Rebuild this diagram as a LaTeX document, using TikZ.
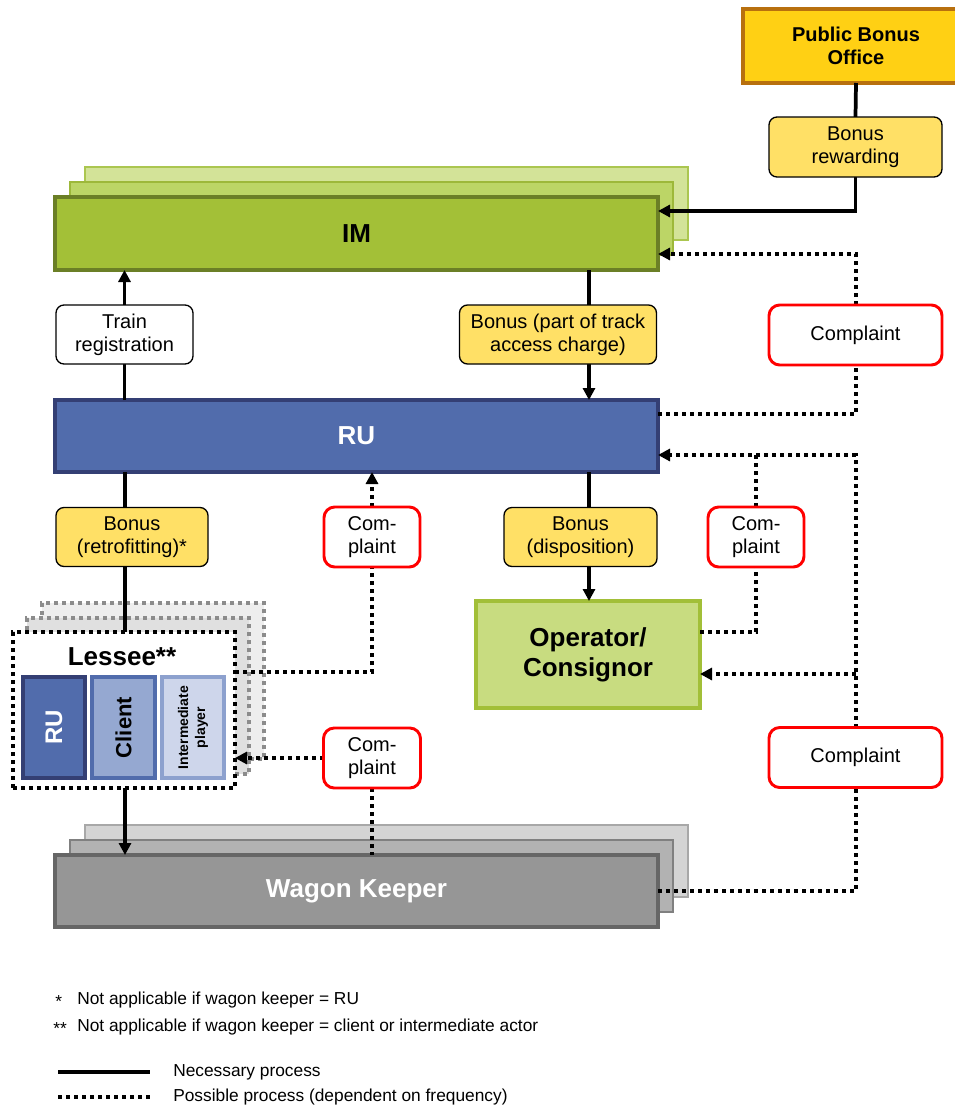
\documentclass[tikz,border=0pt]{standalone}
\usepackage{fontspec}
\setmainfont{Liberation Sans}
\usetikzlibrary{arrows.meta}
\definecolor{pboFill}{HTML}{FFD014}
\definecolor{pboDraw}{HTML}{B8700E}
\definecolor{lblY}{HTML}{FFE066}
\definecolor{imA}{HTML}{A3C037}
\definecolor{imAd}{HTML}{6B7F26}
\definecolor{imB}{HTML}{BCD566}
\definecolor{imBd}{HTML}{9DB83A}
\definecolor{imC}{HTML}{D3E398}
\definecolor{imCd}{HTML}{ABC650}
\definecolor{ruF}{HTML}{516CAC}
\definecolor{ruD}{HTML}{343F74}
\definecolor{opF}{HTML}{C8DC80}
\definecolor{opD}{HTML}{A2BF38}
\definecolor{wkA}{HTML}{969696}
\definecolor{wkAd}{HTML}{666666}
\definecolor{wkB}{HTML}{B2B2B2}
\definecolor{wkBd}{HTML}{808080}
\definecolor{wkC}{HTML}{D4D4D4}
\definecolor{wkCd}{HTML}{A8A8A8}
\definecolor{lsB}{HTML}{E0E0E0}
\definecolor{lsC}{HTML}{EEEEEE}
\definecolor{lsD}{HTML}{8C8C8C}
\definecolor{clF}{HTML}{95A8D1}
\definecolor{inF}{HTML}{CED6EB}
\definecolor{inD}{HTML}{8DA1CE}
\definecolor{cRed}{HTML}{FF0000}
\pgfdeclarelayer{bg}
\pgfdeclarelayer{conn}
\pgfsetlayers{bg,conn,main}
\tikzset{
  sz/.style 2 args={minimum width=#1*0.75pt, minimum height=#2*0.75pt},
  box/.style={draw, rectangle, inner sep=0pt, outer sep=0pt, align=center},
  big/.style={font=\fontsize{19.5}{22.5}\selectfont\bfseries},
  lbl/.style={box, rounded corners=6pt, line width=1pt, font=\fontsize{15}{17.5}\selectfont},
  ylbl/.style={lbl, fill=lblY},
  wlbl/.style={lbl, fill=white},
  clbl/.style={box, rounded corners=8pt, line width=2.2pt, draw=cRed, fill=white, font=\fontsize{15}{17.5}\selectfont},
  sol/.style={line width=2.8pt, black},
  dotln/.style={line width=3pt, black, dash pattern=on 3pt off 3pt},
  >={Triangle[length=9pt,width=9pt]}
}
\begin{document}
\begin{tikzpicture}[x=0.75pt,y=-0.75pt]
\useasboundingbox (0,0) rectangle (955,1107);
\begin{pgfonlayer}{bg}
% Public bonus office
\node[box, sz={226}{74}, fill=pboFill, draw=pboDraw, line width=3pt, font=\fontsize{15}{17.5}\selectfont\bfseries] (pbo) at (856,46) {Public Bonus\\Office};
% IM stack
\node[box, sz={603}{73}, fill=imC, draw=imCd, line width=2.2pt] (imc) at (386.5,203.5) {};
\node[box, sz={603}{73}, fill=imB, draw=imBd, line width=2.2pt] (imb) at (371.5,218.5) {};
\node[box, sz={603}{73}, fill=imA, draw=imAd, line width=2.5pt, big] (im) at (356.5,233.5) {IM};
% RU
\node[box, sz={603}{72}, fill=ruF, draw=ruD, line width=2.5pt, big, text=white] (ru) at (356.5,436) {RU};
% Operator
\node[box, sz={224}{107}, fill=opF, draw=opD, line width=3.5pt, big] (op) at (588,654.5) {Operator/\\Consignor};
% Wagon keeper stack
\node[box, sz={603}{72}, fill=wkC, draw=wkCd, line width=2.2pt] (wkc) at (386.5,861) {};
\node[box, sz={603}{72}, fill=wkB, draw=wkBd, line width=2.2pt] (wkb) at (371.5,876) {};
\node[box, sz={603}{72}, fill=wkA, draw=wkAd, line width=2.5pt, big, text=white] (wk) at (356.5,891) {Wagon Keeper};
% Lessee stack
\node[box, sz={222}{156}, fill=lsC, draw=lsD, line width=2.4pt, dash pattern=on 3pt off 3pt] (lc) at (153,681) {};
\node[box, sz={222}{156}, fill=lsB, draw=lsD, line width=2.4pt, dash pattern=on 3pt off 3pt] (lb) at (138,696) {};
\node[box, sz={222}{156}, fill=white, draw=black, line width=3pt, dash pattern=on 3pt off 3pt] (lf) at (124,710) {};
\node[big] (lt) at (122,657) {Lessee**};
\node[box, sz={101}{62}, rotate=90, fill=ruF, draw=ruD, line width=2.4pt, text=white, font=\fontsize{18}{20}\selectfont\bfseries] (lru) at (54,727.5) {RU};
\node[box, sz={101}{63}, rotate=90, fill=clF, draw=ruF, line width=2.4pt, font=\fontsize{16.5}{19}\selectfont\bfseries] (lcl) at (123.5,727.5) {Client};
\node[box, sz={101}{62}, rotate=90, fill=inF, draw=inD, line width=2.4pt, font=\fontsize{10.5}{12.8}\selectfont\bfseries] (lin) at (193,727.5) {Intermediate\\player};
\end{pgfonlayer}
% label boxes
\node[ylbl, sz={173}{60}] (brw) at (855.5,147) {Bonus\\rewarding};
\node[wlbl, sz={137}{59}] (treg) at (124.5,334.5) {Train\\registration};
\node[ylbl, sz={197}{59}] (bpt) at (558,334.5) {Bonus (part of track\\access charge)};
\node[clbl, sz={173}{60}] (c1) at (855.5,335) {Complaint};
\node[ylbl, sz={152}{59}] (bret) at (132,537) {Bonus\\(retrofitting)*};
\node[clbl, sz={96}{60}] (cm1) at (372,537) {Com-\\plaint};
\node[ylbl, sz={153}{59}] (bdis) at (580.5,537) {Bonus\\(disposition)};
\node[clbl, sz={96}{60}] (cm2) at (756,537) {Com-\\plaint};
\node[clbl, sz={97}{60}] (cm3) at (372,758) {Com-\\plaint};
\node[clbl, sz={173}{60}] (c2) at (855.5,757.5) {Complaint};
% connectors
\begin{pgfonlayer}{conn}
\draw[sol] (pbo.south) -- (brw.north);
\draw[sol,->] (brw.south) |- (im.east |- 0,211);
\draw[dotln] (ru.east |- 0,414) -| (c1.south);
\draw[dotln,->] (c1.north) |- (im.east |- 0,254);
\draw[sol] (treg |- ru.north) -- (treg.south);
\draw[sol,->] (treg.north) -- (treg |- im.south);
\draw[sol] (im.south -| 589,0) -- (bpt.north -| 589,0);
\draw[sol,->] (bpt.south -| 589,0) -- (ru.north -| 589,0);
\draw[sol] (ru.south -| 589,0) -- (bdis.north -| 589,0);
\draw[sol,->] (bdis.south -| 589,0) -- (op.north -| 589,0);
\draw[sol] (ru.south -| 125,0) -- (bret.north -| 125,0);
\draw[sol] (bret.south -| 125,0) -- (lf.north -| 125,0);
\draw[sol,->] (lf.south -| 125,0) -- (wk.north -| 125,0);
\draw[dotln] (lf.east |- 0,672) -| (cm1.south);
\draw[dotln,->] (cm1.north) -- (cm1.north |- ru.south);
\draw[dotln] (cm3.south) -- (cm3.south |- wk.north);
\draw[dotln,->] (cm3.west) -- (lf.east |- cm3.west);
\draw[dotln] (op.east |- 0,632) -| (cm2.south);
\draw[dotln] (cm2.north) -- (cm2.north |- 0,455);
\draw[dotln,->] (c2.north) |- (ru.east |- 0,455);
\draw[dotln,->] (c2.north |- 0,674) -- (op.east |- 0,674);
\draw[dotln] (wk.east |- 0,891) -| (c2.south);
\end{pgfonlayer}
% legend
\begin{scope}[font=\fontsize{13}{15}\selectfont]
\node[anchor=west, inner sep=0pt] (n1) at (55,1002) {*};
\node[anchor=west, inner sep=0pt] (t1) at (77,1000) {Not applicable if wagon keeper = RU};
\node[anchor=west, inner sep=0pt] (n2) at (53,1029) {**};
\node[anchor=west, inner sep=0pt] (t2) at (77,1027) {Not applicable if wagon keeper = client or intermediate actor};
\coordinate (ls1) at (58,1072);
\coordinate (ls2) at (150,1072);
\coordinate (ld1) at (58,1097);
\coordinate (ld2) at (150,1097);
\draw[sol] (ls1) -- (ls2);
\draw[dotln] (ld1) -- (ld2);
\node[anchor=west, inner sep=0pt] (t3) at (173,1072) {Necessary process};
\node[anchor=west, inner sep=0pt] (t4) at (173,1097) {Possible process (dependent on frequency)};
\end{scope}
\end{tikzpicture}
\end{document}
